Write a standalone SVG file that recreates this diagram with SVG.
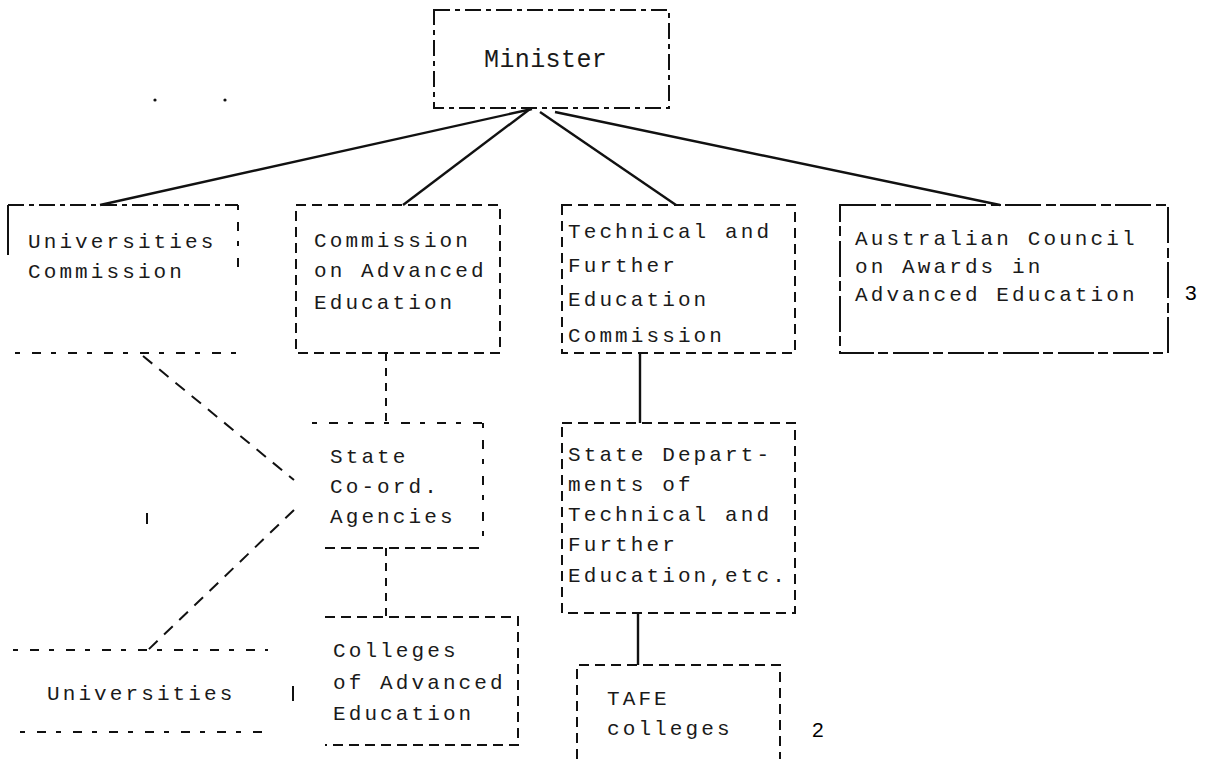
<svg xmlns="http://www.w3.org/2000/svg" width="1205" height="759" viewBox="0 0 1205 759">
<style>
.bg{fill:#fff}
.edge{fill:none;stroke:#111;stroke-width:2;stroke-linecap:butt}
.d1{stroke-dasharray:16 5 5 5}
.d2{stroke-dasharray:10 6}
.d3{stroke-dasharray:5 12 9 10}
.d4{stroke-dasharray:36 5 10 4}
.t{font-family:"Liberation Mono","Courier New",monospace;font-size:21px;letter-spacing:3.1px;fill:#1a1a1a}
.tm{font-family:"Liberation Mono","Courier New",monospace;font-size:25px;letter-spacing:0.4px;fill:#1a1a1a}
.n{font-family:"Liberation Sans",Arial,sans-serif;font-size:21px;fill:#000}
.c{fill:none;stroke:#111;stroke-width:2.4}
.cd{fill:none;stroke:#111;stroke-width:2;stroke-dasharray:12 9}
.cdv{fill:none;stroke:#111;stroke-width:2;stroke-dasharray:8 7}
</style>
<rect class="bg" x="0" y="0" width="1205" height="759"/>

<g id="connectors">
  <line class="c" x1="532" y1="109" x2="100" y2="205"/>
  <line class="c" x1="530" y1="109" x2="403" y2="205"/>
  <line class="c" x1="540" y1="112" x2="676" y2="205"/>
  <line class="c" x1="555" y1="112" x2="1000" y2="205"/>
  <line class="cdv" x1="386" y1="353" x2="386" y2="423"/>
  <line class="cdv" x1="386" y1="548" x2="386" y2="617"/>
  <line class="c" x1="640" y1="353" x2="640" y2="423"/>
  <line class="c" x1="638" y1="613" x2="638" y2="665"/>
  <line class="cd" x1="143" y1="356" x2="294" y2="480"/>
  <line class="cd" x1="294" y1="510" x2="148" y2="650"/>
</g>

<g id="marks">
  <circle cx="155" cy="100" r="1.6" fill="#111"/>
  <circle cx="225" cy="100" r="1.6" fill="#111"/>
  <line class="edge" x1="147" y1="513" x2="147" y2="524"/>
  <line class="edge" x1="293" y1="686" x2="293" y2="701"/>
</g>

<g id="minister">
  <rect class="edge d1" x="434" y="10" width="235" height="98"/>
  <text class="tm" x="484" y="67">Minister</text>
</g>

<g id="universities-commission">
  <path class="edge d1" d="M8 205 H238"/>
  <path class="edge" d="M8 205 V255"/>
  <path class="edge d3" d="M238 205 V275"/>
  <path class="edge d3" d="M15 353 H240"/>
  <text class="t" x="28" y="248">Universities</text>
  <text class="t" x="28" y="278">Commission</text>
</g>

<g id="commission-advanced-education">
  <rect class="edge d2" x="296" y="205" width="204" height="148"/>
  <text class="t" x="314" y="247">Commission</text>
  <text class="t" x="314" y="277">on Advanced</text>
  <text class="t" x="314" y="309">Education</text>
</g>

<g id="tafe-commission">
  <rect class="edge d2" x="562" y="205" width="233" height="148"/>
  <text class="t" x="568" y="238">Technical and</text>
  <text class="t" x="568" y="272">Further</text>
  <text class="t" x="568" y="306">Education</text>
  <text class="t" x="568" y="342">Commission</text>
</g>

<g id="australian-council">
  <rect class="edge d4" x="840" y="205" width="328" height="148"/>
  <text class="t" x="855" y="245">Australian Council</text>
  <text class="t" x="855" y="273">on Awards in</text>
  <text class="t" x="855" y="301">Advanced Education</text>
  <text class="n" x="1185" y="300">3</text>
</g>

<g id="state-coord-agencies">
  <path class="edge d3" d="M312 423 H483"/>
  <path class="edge d3" d="M483 423 V548"/>
  <path class="edge d2" d="M325 548 H483"/>
  <text class="t" x="330" y="463">State</text>
  <text class="t" x="330" y="493">Co-ord.</text>
  <text class="t" x="330" y="523">Agencies</text>
</g>

<g id="state-departments">
  <rect class="edge d2" x="562" y="423" width="233" height="190"/>
  <text class="t" x="568" y="461">State Depart-</text>
  <text class="t" x="568" y="491">ments of</text>
  <text class="t" x="568" y="521">Technical and</text>
  <text class="t" x="568" y="551">Further</text>
  <text class="t" x="568" y="582">Education,etc.</text>
</g>

<g id="colleges-advanced-education">
  <path class="edge d2" d="M325 617 H518 V745 H325"/>
  <text class="t" x="333" y="657">Colleges</text>
  <text class="t" x="333" y="689">of Advanced</text>
  <text class="t" x="333" y="720">Education</text>
</g>

<g id="tafe-colleges">
  <path class="edge d2" d="M577 759 V665 H780 V759"/>
  <text class="t" x="607" y="705">TAFE</text>
  <text class="t" x="607" y="735">colleges</text>
  <text class="n" x="812" y="737">2</text>
</g>

<g id="universities">
  <path class="edge d3" d="M13 650 H268"/>
  <path class="edge d3" d="M20 732 H268"/>
  <text class="t" x="47" y="700">Universities</text>
</g>
</svg>
